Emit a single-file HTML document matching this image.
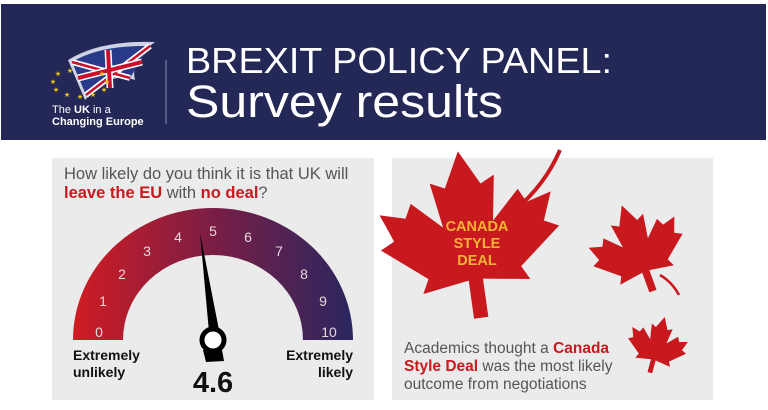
<!DOCTYPE html>
<html><head><meta charset="utf-8"><style>
html,body{margin:0;padding:0;background:#fff;}
body{width:768px;height:410px;overflow:hidden;position:relative;font-family:"Liberation Sans",sans-serif;}
</style></head><body>
<svg width="768" height="410" viewBox="0 0 768 410" xmlns="http://www.w3.org/2000/svg" style="position:absolute;left:0;top:0">
<defs>
<linearGradient id="g" x1="73" y1="0" x2="353" y2="0" gradientUnits="userSpaceOnUse">
<stop offset="0" stop-color="#d11c22"/><stop offset="0.5" stop-color="#7a1e45"/><stop offset="1" stop-color="#2a2760"/>
</linearGradient>
<path id="leaf" d="M0,-50 L10,-30 L18,-34 L14,-8 L30,-24 L34,-16 L48,-20 L42,-4 L50,0 L26,20 L30,28 L4,24 L4,46 L-4,46 L-4,24 L-30,28 L-26,20 L-50,0 L-42,-4 L-48,-20 L-34,-16 L-30,-24 L-14,-8 L-18,-34 L-10,-30 Z"/>
</defs>
<rect x="1" y="4" width="765" height="136" fill="#232856"/>
<!-- logo -->
<path d="M68,60 Q100,40 155,42 Q130,60 135,80 Q110,70 85,100 Z" fill="#cfd3e6"/>
<path d="M72,62 Q100,45 150,46 L130,78 Q108,72 86,95 Z" fill="#2a3a8a"/>
<path d="M72,62 L130,78 M150,46 L86,95" stroke="#fff" stroke-width="6"/>
<path d="M72,62 L130,78 M150,46 L86,95" stroke="#c8102e" stroke-width="2.5"/>
<path d="M108,50 L110,88 M78,78 L142,62" stroke="#fff" stroke-width="7"/>
<path d="M108,50 L110,88 M78,78 L142,62" stroke="#c8102e" stroke-width="4"/>
<g fill="#f1c40f" font-size="7" text-anchor="middle">
<text x="58" y="76">★</text><text x="53" y="84">★</text><text x="56" y="92">★</text>
<text x="67" y="97">★</text><text x="80" y="99">★</text><text x="93" y="97">★</text>
<text x="104" y="92">★</text><text x="107" y="84">★</text><text x="102" y="76">★</text>
<text x="70" y="73">★</text>
</g>
<text x="52" y="113" font-size="11" fill="#fff">The <tspan font-weight="bold">UK</tspan> in a</text>
<text x="52" y="125" font-size="11" font-weight="bold" fill="#fff">Changing Europe</text>
<line x1="166" y1="60" x2="166" y2="124" stroke="#8a8fb0" stroke-width="1"/>
<text x="186" y="73" font-size="36" fill="#fff" textLength="426" lengthAdjust="spacingAndGlyphs">BREXIT POLICY PANEL:</text>
<text x="186" y="117" font-size="45" fill="#fff" textLength="317" lengthAdjust="spacingAndGlyphs">Survey results</text>
<!-- left panel -->
<rect x="52" y="158" width="322" height="242" fill="#ebebeb"/>
<text x="64" y="179" font-size="16.5" fill="#555">How likely do you think it is that UK will</text>
<text x="64" y="198" font-size="16.5" fill="#555"><tspan font-weight="bold" fill="#c8191f">leave the EU</tspan> with <tspan font-weight="bold" fill="#c8191f">no deal</tspan>?</text>
<path d="M73,340 A140,132 0 0 1 353,340 L303,340 A90,85 0 0 0 123,340 Z" fill="url(#g)"/>
<g font-size="14" fill="#e6d8df" text-anchor="middle">
<text x="99" y="337">0</text><text x="103" y="306">1</text><text x="122" y="279">2</text>
<text x="147" y="256">3</text><text x="178" y="242">4</text><text x="213" y="236">5</text>
<text x="248" y="242">6</text><text x="279" y="256">7</text><text x="304" y="279">8</text>
<text x="323" y="306">9</text><text x="329" y="337">10</text>
</g>
<path d="M200,233 L219,330 L209,332 Z" fill="#000"/>
<path d="M203,350 L222,350 L224,361 L206,362 Z" fill="#000"/>
<circle cx="213" cy="340" r="11" fill="#fff" stroke="#000" stroke-width="5"/>
<text x="73" y="360" font-size="14" font-weight="bold" fill="#111">Extremely</text>
<text x="73" y="377" font-size="14" font-weight="bold" fill="#111">unlikely</text>
<text x="353" y="360" font-size="14" font-weight="bold" fill="#111" text-anchor="end">Extremely</text>
<text x="353" y="377" font-size="14" font-weight="bold" fill="#111" text-anchor="end">likely</text>
<text x="213" y="392" font-size="29" font-weight="bold" fill="#111" text-anchor="middle">4.6</text>
<!-- right panel -->
<rect x="392" y="158" width="321" height="242" fill="#ebebeb"/>
<path d="M515,210 Q545,185 560,150" stroke="#c8191f" stroke-width="4" fill="none"/>
<use href="#leaf" transform="translate(470,238) rotate(-8) scale(1.8,1.75)" fill="#c8191f"/>
<use href="#leaf" transform="translate(638,250) rotate(-20) scale(0.95)" fill="#c8191f"/>
<path d="M660,275 Q672,282 679,295" stroke="#c8191f" stroke-width="2.5" fill="none"/>
<use href="#leaf" transform="translate(657,346) rotate(15) scale(0.6)" fill="#c8191f"/>
<g font-size="14.5" font-weight="bold" fill="#f5b335" text-anchor="middle">
<text x="477" y="231">CANADA</text><text x="477" y="248">STYLE</text><text x="477" y="265">DEAL</text>
</g>
<g font-size="15.5" fill="#555">
<text x="404" y="353">Academics thought a <tspan font-weight="bold" fill="#c8191f">Canada</tspan></text>
<text x="404" y="371"><tspan font-weight="bold" fill="#c8191f">Style Deal</tspan> was the most likely</text>
<text x="404" y="389">outcome from negotiations</text>
</g>
</svg>
</body></html>
